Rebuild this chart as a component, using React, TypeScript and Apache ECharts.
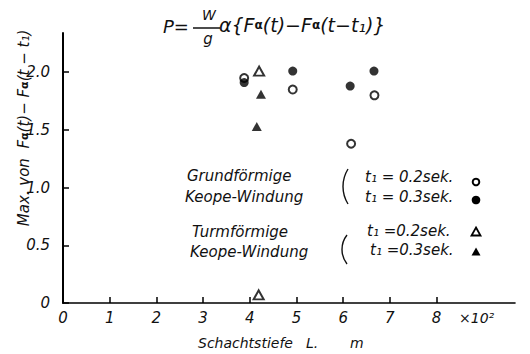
import React, { useEffect, useRef } from "react";
import * as echarts from "echarts";

// Axis tick positions (x in units of 10^2 m)
const xTicks = [0, 1, 2, 3, 4, 5, 6, 7, 8];
const yTicks = [0, 0.5, 1.0, 1.5, 2.0];

// Grundförmige Keope-Windung
const grundT02 = [
  [3.88, 1.95],
  [4.92, 1.85],
  [6.17, 1.38],
  [6.67, 1.8],
];
const grundT03 = [
  [3.88, 1.91],
  [4.92, 2.01],
  [6.15, 1.88],
  [6.66, 2.01],
];

// Turmförmige Keope-Windung
const turmT02 = [
  [4.2, 2.01],
  [4.19, 0.07],
];
const turmT03 = [
  [4.24, 1.81],
  [4.15, 1.53],
];

const FONT = "'DejaVu Sans', 'Liberation Sans', sans-serif";
const INK = "#111";

const openStyle = { color: "#fff", borderColor: "#000", borderWidth: 2 };
const fullStyle = { color: "#000", borderColor: "#000", borderWidth: 0 };

function txt(x: number, y: number, text: string, extra: any = {}) {
  return {
    type: "text",
    x,
    y,
    silent: true,
    style: {
      text,
      fill: INK,
      font: `italic 15px ${FONT}`,
      align: "left",
      verticalAlign: "middle",
      ...extra,
    },
  };
}

// thin curved brace in front of a pair of legend lines
function bracket(top: number, bottom: number, x: number) {
  const half = (bottom - top) / 2;
  const sag = 5;
  const r = (half * half + sag * sag) / (2 * sag);
  const a = Math.asin(half / r);
  return {
    type: "arc",
    silent: true,
    shape: { cx: x + r, cy: top + half, r, startAngle: Math.PI - a, endAngle: Math.PI + a, clockwise: true },
    style: { stroke: INK, lineWidth: 1.4, fill: "none" },
  };
}

function tri(cx: number, cy: number, filled: boolean) {
  return {
    type: "polygon",
    silent: true,
    shape: {
      points: [
        [cx, cy - 4.5],
        [cx + 4.5, cy + 3.5],
        [cx - 4.5, cy + 3.5],
      ],
    },
    style: filled
      ? { fill: "#000" }
      : { fill: "#fff", stroke: "#000", lineWidth: 1.8 },
  };
}

const tickRich = {
  i: { fontStyle: "italic", fontSize: 15, fontFamily: FONT, color: INK },
};

export default function App() {
  const ref = useRef<HTMLDivElement>(null);

  useEffect(() => {
    document.body.style.margin = "0";
    if (!ref.current) return;
    const chart = echarts.init(ref.current, null, { renderer: "svg" });

    const subA = { fontSize: 11, fontWeight: "bold", fontStyle: "normal", fontFamily: FONT, fill: INK };

    chart.setOption({
      animation: false,
      backgroundColor: "#fff",
      grid: { left: 63, right: 15, top: 33, bottom: 51 },
      xAxis: {
        type: "value",
        min: 0,
        max: 9.68,
        interval: 1,
        axisLine: { show: true, onZero: false, lineStyle: { color: "#000", width: 1.6 } },
        axisTick: { show: true, inside: true, length: 6, customValues: xTicks, lineStyle: { color: "#000", width: 1.5 } },
        axisLabel: {
          customValues: xTicks,
          margin: 7,
          color: INK,
          fontSize: 15,
          fontStyle: "italic",
          fontFamily: FONT,
          rich: tickRich,
          formatter: (v: number) => `{i|${v}}`,
        },
        splitLine: { show: false },
      },
      yAxis: {
        type: "value",
        min: 0,
        max: 2.34,
        interval: 0.5,
        axisLine: { show: true, onZero: false, lineStyle: { color: "#000", width: 2 } },
        axisTick: { show: true, inside: true, length: 6, customValues: yTicks, lineStyle: { color: "#000", width: 1.5 } },
        axisLabel: {
          customValues: yTicks,
          margin: 13,
          color: INK,
          fontSize: 15,
          fontStyle: "italic",
          fontFamily: FONT,
          rich: tickRich,
          formatter: (v: number) => `{i|${v === 0 ? "0" : v.toFixed(1)}}`,
        },
        splitLine: { show: false },
      },
      series: [
        { name: "Grund t1=0.2", type: "scatter", symbol: "circle", symbolSize: 8, data: grundT02, itemStyle: openStyle },
        { name: "Grund t1=0.3", type: "scatter", symbol: "circle", symbolSize: 9, data: grundT03, itemStyle: fullStyle },
        { name: "Turm t1=0.2", type: "scatter", symbol: "triangle", symbolSize: [10, 9], data: turmT02, itemStyle: openStyle },
        { name: "Turm t1=0.3", type: "scatter", symbol: "triangle", symbolSize: [10, 9], data: turmT03, itemStyle: fullStyle },
      ],
      graphic: [
        // formula
        txt(163, 26, "P=", { font: `italic 18px ${FONT}` }),
        txt(209, 15, "W", { font: `italic 14px ${FONT}`, align: "center" }),
        { type: "line", silent: true, shape: { x1: 193, y1: 28, x2: 220, y2: 28 }, style: { stroke: INK, lineWidth: 1.5 } },
        txt(208, 39, "g", { font: `italic 15px ${FONT}`, align: "center" }),
        txt(219, 25, "α{F{a|α}(t)−F{a|α}(t−t₁)}", {
          font: `italic 19px ${FONT}`,
          rich: { a: { ...subA, fontSize: 12 } },
        }),
        // y axis name
        {
          type: "text",
          x: 24,
          y: 128,
          rotation: Math.PI / 2,
          silent: true,
          style: {
            text: "Max. von  F{a|α}(t)− F{a|α}(t − t₁)",
            fill: INK,
            font: `italic 15px ${FONT}`,
            align: "center",
            verticalAlign: "middle",
            rich: { a: subA },
          },
        },
        // x axis name
        txt(198, 343, "Schachtstiefe", { font: `italic 14px ${FONT}` }),
        txt(306, 343, "L.", { font: `italic 14px ${FONT}` }),
        txt(350, 343, "m", { font: `italic 14px ${FONT}` }),
        txt(459, 318, "×10²", { font: `italic 14px ${FONT}` }),
        // legend
        txt(187, 176, "Grundförmige"),
        txt(185, 197, "Keope-Windung"),
        txt(192, 232, "Turmförmige"),
        txt(190, 252, "Keope-Windung"),
        bracket(169, 204, 343),
        bracket(235, 264, 342),
        txt(365, 177, "t₁ = 0.2sek."),
        txt(365, 197, "t₁ = 0.3sek."),
        txt(367, 231, "t₁ =0.2sek."),
        txt(370, 250, "t₁ =0.3sek."),
        { type: "circle", silent: true, shape: { cx: 476, cy: 182, r: 3.3 }, style: { fill: "#fff", stroke: "#000", lineWidth: 2 } },
        { type: "circle", silent: true, shape: { cx: 476, cy: 200, r: 4.3 }, style: { fill: "#000" } },
        tri(476, 232, false),
        tri(476, 252, true),
      ],
    });

    return () => chart.dispose();
  }, []);

  return <div ref={ref} style={{ width: 530, height: 354 }} />;
}
